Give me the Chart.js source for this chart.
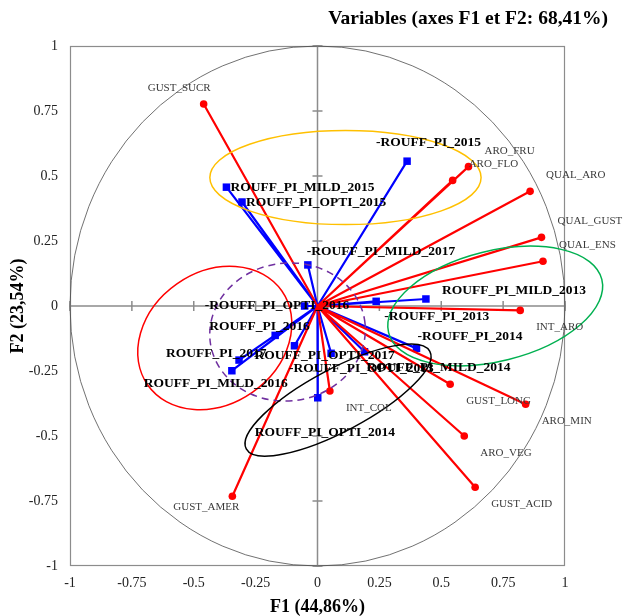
<!DOCTYPE html>
<html>
<head>
<meta charset="utf-8">
<script src="https://cdn.jsdelivr.net/npm/chart.js@4.4.1/dist/chart.umd.min.js"></script>
<style>
  html, body { margin: 0; padding: 0; background: #ffffff; }
  #wrap { width: 629px; height: 616px; }
</style>
</head>
<body>
<div id="wrap"><canvas id="c" width="629" height="616"></canvas></div>
<script>
// Axis ticks
const tickValues = [-1, -0.75, -0.5, -0.25, 0, 0.25, 0.5, 0.75, 1];
const tickLabels = ['-1', '-0.75', '-0.5', '-0.25', '0', '0.25', '0.5', '0.75', '1'];

// Active variables: correlations with F1 and F2
const variableNames = ['GUST_SUCR', 'ARO_FRU', 'ARO_FLO', 'QUAL_ARO', 'QUAL_GUST', 'QUAL_ENS', 'INT_ARO',
  'GUST_LONG', 'ARO_MIN', 'ARO_VEG', 'GUST_ACID', 'INT_COL', 'GUST_AMER'];
const variableF1 = [-0.46, 0.61, 0.546, 0.859, 0.905, 0.911, 0.819, 0.536, 0.841, 0.593, 0.637, 0.05, -0.344];
const variableF2 = [0.777, 0.536, 0.483, 0.441, 0.264, 0.172, -0.017, -0.301, -0.378, -0.5, -0.697, -0.327, -0.732];

// Supplementary observations projected on F1/F2
const observationNames = ['-ROUFF_PI_2015', 'ROUFF_PI_MILD_2015', 'ROUFF_PI_OPTI_2015', '-ROUFF_PI_MILD_2017',
  '-ROUFF_PI_OPTI_2016', 'ROUFF_PI_2016', 'ROUFF_PI_2017', 'ROUFF_PI_MILD_2016', 'ROUFF_PI_MILD_2013',
  '-ROUFF_PI_2013', '-ROUFF_PI_2014', 'ROUFF_PI_MILD_2014', '-ROUFF_PI_OPTI_2013', 'ROUFF_PI_OPTI_2017',
  'ROUFF_PI_OPTI_2014'];
const observationF1 = [0.362, -0.368, -0.305, -0.039, -0.052, -0.171, -0.317, -0.346, 0.438, 0.237, 0.40, 0.19, 0.055, -0.093, 0.001];
const observationF2 = [0.557, 0.457, 0.40, 0.158, 0.0, -0.113, -0.208, -0.249, 0.027, 0.018, -0.163, -0.176, -0.182, -0.153, -0.353];

// Label placement (pixel shift of the label's left edge / middle from its marker)
const observationLabelShift = [[-31, -19], [4, 0], [4, 1], [-1, -13], [-100, 0], [-66, -9], [-73, -7],
  [-88, 13], [16, -8], [8, 15], [1, -12], [2, 16], [-42, 15], [-40, 10], [-63, 35]];

// Year groupings (centre, half-axes in axis units, tilt in degrees)
const groupCx = [0.113, 0.718, -0.415, -0.121, 0.083];
const groupCy = [0.494, 0.0, -0.123, -0.1, -0.362];
const groupRx = [0.548, 0.444, 0.331, 0.315, 0.42];
const groupRy = [0.181, 0.212, 0.254, 0.265, 0.12];
const groupTilt = [0, -14, -35, -8, -28];
const groupColors = ['#FFC000', '#00B050', '#FF0000', '#7030A0', '#000000'];
const groupDashed = [false, false, false, true, false];

const SERIF = '"Liberation Serif", "DejaVu Serif", serif';

// Each vector runs from the origin to its point; gaps split the vectors
function vectorData(xs, ys) {
  const out = [];
  xs.forEach((x, i) => {
    out.push({ x: 0, y: 0 }, { x: x, y: ys[i] }, { x: null, y: null });
  });
  return out;
}

const tipOnly = (r) => (c) => (c.dataIndex % 3 === 1 ? r : 0);

const framePlugin = {
  id: 'frame',
  beforeDatasetsDraw(chart) {
    const { ctx, chartArea: a, scales: { x, y } } = chart;
    ctx.save();
    ctx.strokeStyle = '#8c8c8c';
    ctx.lineWidth = 1.2;
    ctx.strokeRect(a.left + 0.5, a.top + 0.5, a.right - a.left - 1, a.bottom - a.top - 1);
    const x0 = x.getPixelForValue(0), y0 = y.getPixelForValue(0);
    ctx.lineWidth = 1.5;
    ctx.beginPath();
    ctx.moveTo(x0, a.top); ctx.lineTo(x0, a.bottom);
    ctx.moveTo(a.left, y0); ctx.lineTo(a.right, y0);
    tickValues.forEach(v => {
      const px = x.getPixelForValue(v), py = y.getPixelForValue(v);
      ctx.moveTo(px, y0 - 5); ctx.lineTo(px, y0 + 5);
      ctx.moveTo(x0 - 5, py); ctx.lineTo(x0 + 5, py);
    });
    ctx.stroke();
    // correlation circle
    ctx.strokeStyle = '#4d4d4d';
    ctx.lineWidth = 0.8;
    ctx.beginPath();
    ctx.ellipse(x0, y0, x.getPixelForValue(1) - x0, y0 - y.getPixelForValue(1), 0, 0, Math.PI * 2);
    ctx.stroke();
    ctx.restore();
  }
};

const groupPlugin = {
  id: 'groups',
  afterDatasetsDraw(chart) {
    const { ctx, scales: { x, y } } = chart;
    const sx = x.getPixelForValue(1) - x.getPixelForValue(0);
    const sy = y.getPixelForValue(0) - y.getPixelForValue(1);
    ctx.save();
    groupCx.forEach((cx, i) => {
      ctx.strokeStyle = groupColors[i];
      ctx.lineWidth = 1.5;
      ctx.setLineDash(groupDashed[i] ? [7, 5] : []);
      ctx.beginPath();
      ctx.ellipse(x.getPixelForValue(cx), y.getPixelForValue(groupCy[i]),
        groupRx[i] * sx, groupRy[i] * sy, groupTilt[i] * Math.PI / 180, 0, Math.PI * 2);
      ctx.stroke();
    });
    ctx.restore();
  }
};

const labelPlugin = {
  id: 'labels',
  afterDraw(chart) {
    const { ctx, scales: { x, y }, width, height } = chart;
    ctx.save();
    ctx.textBaseline = 'middle';
    // variable names
    ctx.font = '11px ' + SERIF;
    ctx.fillStyle = '#3a3a3a';
    variableNames.forEach((name, i) => {
      const px = x.getPixelForValue(variableF1[i]);
      const py = y.getPixelForValue(variableF2[i]);
      const right = variableF1[i] >= 0;
      ctx.textAlign = right ? 'left' : 'right';
      const dy = variableF2[i] >= 0 ? -16 : (right ? 17 : 11);
      ctx.fillText(name, px + (right ? 16 : 7), py + dy);
    });
    // observation names
    ctx.font = 'bold 13.5px ' + SERIF;
    ctx.fillStyle = '#000000';
    ctx.textAlign = 'left';
    observationNames.forEach((name, i) => {
      const px = x.getPixelForValue(observationF1[i]);
      const py = y.getPixelForValue(observationF2[i]);
      const s = observationLabelShift[i];
      ctx.fillText(name, px + s[0], py + s[1]);
    });
    // titles
    ctx.font = 'bold 19.5px ' + SERIF;
    ctx.textAlign = 'right';
    ctx.fillText('Variables (axes F1 et F2: 68,41%)', width - 21, 19);
    ctx.font = 'bold 18px ' + SERIF;
    ctx.textAlign = 'center';
    ctx.fillText('F1 (44,86%)', (x.left + x.right) / 2, height - 9);
    ctx.translate(18, (y.top + y.bottom) / 2);
    ctx.rotate(-Math.PI / 2);
    ctx.fillText('F2 (23,54%)', 0, 0);
    ctx.restore();
  }
};

const axisCommon = {
  type: 'linear',
  min: -1,
  max: 1,
  afterBuildTicks: (s) => { s.ticks = tickValues.map(v => ({ value: v })); },
  grid: { display: false, drawTicks: false },
  border: { display: false },
};

new Chart(document.getElementById('c'), {
  type: 'scatter',
  data: {
    datasets: [
      {
        label: 'Variables',
        data: vectorData(variableF1, variableF2),
        showLine: true,
        spanGaps: false,
        borderColor: '#FF0000',
        backgroundColor: '#FF0000',
        borderWidth: 2.2,
        pointStyle: 'circle',
        pointRadius: tipOnly(3.8),
        pointBorderWidth: 0,
        pointHoverRadius: tipOnly(3.8),
      },
      {
        label: 'Observations',
        data: vectorData(observationF1, observationF2),
        showLine: true,
        spanGaps: false,
        borderColor: '#0000FF',
        backgroundColor: '#0000FF',
        borderWidth: 2.2,
        pointStyle: 'rect',
        pointRadius: tipOnly(5.3),
        pointBorderWidth: 0,
        pointHoverRadius: tipOnly(5.3),
      }
    ]
  },
  options: {
    responsive: false,
    animation: false,
    devicePixelRatio: 1,
    layout: { padding: { top: 46, right: 64, bottom: 0, left: 0 } },
    plugins: { legend: { display: false }, tooltip: { enabled: false }, title: { display: false } },
    scales: {
      x: Object.assign({}, axisCommon, {
        position: 'bottom',
        ticks: {
          callback: (v) => tickLabels[tickValues.indexOf(v)],
          padding: 9,
          maxRotation: 0,
          autoSkip: false,
          color: '#222222',
          font: { family: SERIF, size: 14 }
        },
        afterFit: (s) => { s.height = 50; }
      }),
      y: Object.assign({}, axisCommon, {
        position: 'left',
        ticks: {
          callback: (v) => tickLabels[tickValues.indexOf(v)],
          padding: 12,
          autoSkip: false,
          color: '#222222',
          font: { family: SERIF, size: 14 }
        },
        afterFit: (s) => { s.width = 70; }
      })
    }
  },
  plugins: [framePlugin, groupPlugin, labelPlugin]
});
</script>
</body>
</html>
